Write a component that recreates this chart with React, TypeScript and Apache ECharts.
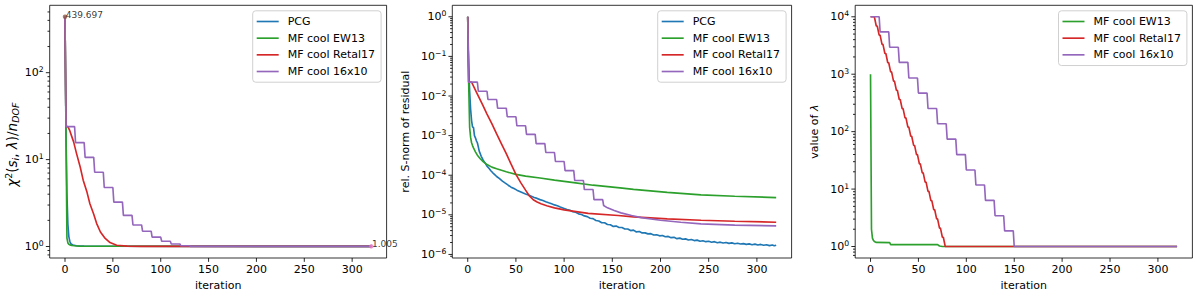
import React, { useEffect, useRef } from "react";
import * as echarts from "echarts";

// ---------- shared ----------
const ITER_TICKS = [0, 50, 100, 150, 200, 250, 300];
const X_MIN = -16;
const X_MAX = 336;
const NAME_PCG = "PCG";
const NAME_EW13 = "MF cool EW13";
const NAME_RETAL = "MF cool Retal17";
const NAME_16X10 = "MF cool 16x10";
const COLOR_PCG = "#1f77b4";
const COLOR_EW13 = "#2ca02c";
const COLOR_RETAL = "#d62728";
const COLOR_16X10 = "#9467bd";

// ---------- panel 1: chi^2 / n_DOF ----------
const CHI2_RANGE = [0.7376, 596.3];
const CHI2_MAJOR = [1, 10, 100];
const chi2PCG = [[0, 439.697], [1, 20], [2, 4.0], [3, 1.8], [4, 1.3], [5, 1.15], [6, 1.08], [8, 1.04], [12, 1.02], [20, 1.01], [40, 1.006], [320, 1.005]];
const chi2EW13 = [[0, 439.697], [1, 24], [2, 1.25], [3, 1.1], [4, 1.06], [5, 1.045], [7, 1.03], [10, 1.02], [15, 1.012], [25, 1.008], [50, 1.006], [320, 1.005]];
const chi2Retal = [[0, 439.697], [1, 24], [3, 24], [5, 21.5], [7, 18.5], [9, 16], [12, 11.8], [16, 8.1], [19, 5.8], [23, 4.2], [26, 3.1], [30, 2.35], [33, 1.85], [37, 1.47], [42, 1.24], [47, 1.11], [54, 1.035], [65, 1.01], [80, 1.005], [320, 1.005]];
const chi2Cool16 = [[0, 439.697], [1, 24], [10, 24], [11, 15.7], [20, 15.7], [21, 10.6], [30, 10.6], [31, 7.16], [40, 7.16], [41, 4.78], [50, 4.78], [51, 3.24], [60, 3.24], [61, 2.28], [70, 2.28], [71, 1.77], [80, 1.77], [81, 1.5], [90, 1.5], [91, 1.28], [100, 1.28], [101, 1.15], [110, 1.15], [111, 1.07], [120, 1.07], [121, 1.02], [130, 1.02], [131, 1.005], [320, 1.005]];
const chi2Start = [[0, 439.697]];
const chi2End = [[320, 1.005]];
const chi2StartLabel = "439.697";
const chi2EndLabel = "1.005";

// ---------- panel 2: relative residual ----------
const RES_RANGE = [8.13e-7, 1.95];
const RES_MAJOR = [1e-6, 1e-5, 1e-4, 1e-3, 1e-2, 1e-1, 1];
const resPCG = [[0, 1], [1, 0.06], [2, 0.013], [3, 4.6e-3], [4, 2.4e-3], [5, 1.65e-3], [6, 1.6e-3], [7, 1.0e-3], [8, 8.8e-4], [9, 7.4e-4], [10, 6.6e-4], [11, 5.2e-4], [12, 4.0e-4], [13, 3.5e-4], [14, 3.0e-4], [15, 2.7e-4], [16, 2.4e-4], [18, 2.05e-4], [20, 1.7e-4], [22, 1.5e-4], [24, 1.3e-4], [26, 1.15e-4], [28, 1.04e-4], [30, 9.3e-5], [33, 8.2e-5], [36, 7.1e-5], [39, 6.3e-5], [42, 5.6e-5], [45, 5.0e-5], [48, 4.6e-5], [51, 4.2e-5], [54, 3.9e-5], [57, 3.6e-5], [60, 3.35e-5], [63, 3.15e-5], [66, 2.95e-5], [69, 2.75e-5], [72, 2.6e-5], [75, 2.42e-5], [78, 2.3e-5], [81, 2.15e-5], [84, 2.02e-5], [87, 1.9e-5], [90, 1.78e-5], [93, 1.7e-5], [96, 1.58e-5], [100, 1.45e-5], [103, 1.36e-5], [106, 1.31e-5], [109, 1.2e-5], [112, 1.16e-5], [115, 1.06e-5], [118, 1.02e-5], [121, 9.4e-6], [124, 9.0e-6], [127, 8.2e-6], [130, 8.0e-6], [133, 7.2e-6], [136, 7.0e-6], [139, 6.3e-6], [142, 6.3e-6], [145, 5.7e-6], [148, 5.6e-6], [151, 5.1e-6], [154, 5.2e-6], [157, 4.8e-6], [160, 4.8e-6], [163, 4.4e-6], [166, 4.4e-6], [169, 4.0e-6], [172, 4.1e-6], [175, 3.7e-6], [178, 3.8e-6], [181, 3.5e-6], [184, 3.5e-6], [187, 3.3e-6], [190, 3.35e-6], [193, 3.1e-6], [196, 3.15e-6], [199, 2.95e-6], [202, 3.0e-6], [205, 2.8e-6], [208, 2.85e-6], [211, 2.65e-6], [214, 2.7e-6], [217, 2.5e-6], [220, 2.58e-6], [223, 2.42e-6], [226, 2.47e-6], [229, 2.32e-6], [232, 2.38e-6], [235, 2.24e-6], [238, 2.3e-6], [241, 2.16e-6], [244, 2.22e-6], [247, 2.1e-6], [250, 2.15e-6], [253, 2.03e-6], [256, 2.1e-6], [259, 1.98e-6], [262, 2.04e-6], [265, 1.94e-6], [268, 2.0e-6], [271, 1.9e-6], [274, 1.96e-6], [277, 1.86e-6], [280, 1.92e-6], [283, 1.83e-6], [286, 1.88e-6], [289, 1.8e-6], [292, 1.85e-6], [295, 1.76e-6], [298, 1.82e-6], [301, 1.73e-6], [304, 1.79e-6], [307, 1.7e-6], [310, 1.76e-6], [313, 1.67e-6], [316, 1.73e-6], [318, 1.65e-6], [320, 1.7e-6]];
const resEW13 = [[0, 1], [1, 0.02], [2, 1.6e-3], [3, 9.0e-4], [4, 6.6e-4], [5, 5.6e-4], [6, 4.9e-4], [8, 3.9e-4], [10, 3.2e-4], [13, 2.6e-4], [16, 2.2e-4], [20, 1.86e-4], [25, 1.6e-4], [30, 1.45e-4], [35, 1.33e-4], [40, 1.22e-4], [50, 1.05e-4], [60, 9.5e-5], [75, 8.5e-5], [90, 7.5e-5], [110, 6.5e-5], [130, 5.6e-5], [158, 4.8e-5], [172, 4.4e-5], [207, 3.7e-5], [242, 3.2e-5], [277, 2.95e-5], [320, 2.73e-5]];
const resRetal = [[0, 1], [1, 0.0224], [4, 0.0224], [6, 0.0178], [10, 0.0112], [15, 6.3e-3], [20, 3.5e-3], [25, 2.0e-3], [30, 1.1e-3], [35, 6.2e-4], [40, 3.5e-4], [45, 1.9e-4], [50, 1.05e-4], [55, 6.5e-5], [60, 4.2e-5], [64, 3.0e-5], [68, 2.4e-5], [72, 2.1e-5], [76, 1.9e-5], [82, 1.7e-5], [90, 1.5e-5], [100, 1.33e-5], [125, 1.09e-5], [156, 9.6e-6], [172, 8.9e-6], [207, 7.9e-6], [242, 7.3e-6], [277, 6.9e-6], [320, 6.5e-6]];
const resCool16 = [[0, 1], [1, 0.0224], [10, 0.0224], [11, 0.0132], [20, 0.0132], [21, 8.16e-3], [30, 8.16e-3], [31, 4.92e-3], [40, 4.92e-3], [41, 2.99e-3], [50, 2.99e-3], [51, 1.77e-3], [60, 1.77e-3], [61, 1.07e-3], [70, 1.07e-3], [71, 6.3e-4], [80, 6.3e-4], [81, 3.74e-4], [90, 3.74e-4], [91, 2.22e-4], [100, 2.22e-4], [101, 1.31e-4], [110, 1.31e-4], [111, 7.35e-5], [120, 7.35e-5], [121, 4.35e-5], [130, 4.35e-5], [131, 2.43e-5], [140, 2.43e-5], [141, 1.72e-5], [145, 1.5e-5], [152, 1.28e-5], [159, 1.12e-5], [170, 9.6e-6], [180, 8.5e-6], [200, 7.3e-6], [221, 6.5e-6], [242, 5.9e-6], [277, 5.5e-6], [320, 5.25e-6]];

// ---------- panel 3: lambda ----------
const LAM_RANGE = [0.631, 15849];
const LAM_MAJOR = [1, 10, 100, 1000, 10000];
const lamEW13 = [[0, 1000], [1, 2.0], [2, 1.4], [3, 1.28], [4, 1.22], [6, 1.18], [20, 1.17], [21, 1.08], [70, 1.08], [72, 1.02], [75, 1.0], [320, 1.0]];
const lamRetal = [[0, 10000], [4, 10000], [6, 6918], [7, 6918], [9, 4786], [10, 4786], [12, 3311], [13, 3311], [15, 2291], [16, 2291], [18, 1585], [19, 1585], [21, 1096], [22, 1096], [24, 759], [25, 759], [27, 525], [28, 525], [30, 363], [31, 363], [33, 251], [34, 251], [36, 174], [37, 174], [39, 120], [40, 120], [42, 83.2], [43, 83.2], [45, 57.5], [46, 57.5], [48, 39.8], [49, 39.8], [51, 27.5], [52, 27.5], [54, 19.1], [55, 19.1], [57, 13.2], [58, 13.2], [60, 9.12], [61, 9.12], [63, 6.31], [64, 6.31], [66, 4.37], [67, 4.37], [69, 3.02], [70, 3.02], [72, 2.09], [73, 2.09], [75, 1.45], [76, 1.45], [78, 1.0], [320, 1.0]];
const lamCool16 = [[0, 10000], [9, 10000], [10, 5470], [19, 5470], [20, 2950], [29, 2950], [30, 1610], [39, 1610], [40, 859], [49, 859], [50, 470], [59, 470], [60, 253], [69, 253], [70, 137], [79, 137], [80, 74], [89, 74], [90, 39.8], [99, 39.8], [100, 21.5], [109, 21.5], [110, 11.8], [119, 11.8], [120, 6.36], [129, 6.36], [130, 3.43], [139, 3.43], [140, 1.87], [149, 1.87], [150, 1.0], [320, 1.0]];

// ---------- layout ----------
const FONT = "DejaVu Sans";
const FS = 11;
const GRIDS = [
  { left: 49.7, top: 5.3, width: 336.9, height: 252.7 },
  { left: 452.3, top: 5.3, width: 339.3, height: 252.7 },
  { left: 855.2, top: 5.3, width: 337.2, height: 252.7 },
];

function minorTicks(range: number[]) {
  const out: number[] = [];
  const lo = Math.floor(Math.log10(range[0]));
  const hi = Math.ceil(Math.log10(range[1]));
  for (let d = lo; d <= hi; d++) {
    for (let m = 2; m <= 9; m++) {
      const v = m * Math.pow(10, d);
      if (v >= range[0] && v <= range[1]) out.push(v);
    }
  }
  return out;
}

function tickSeries(idx: number, yRange: number[], yMajor: number[]) {
  const data: number[][] = [];
  ITER_TICKS.forEach((v) => data.push([v, yRange[0], 0]));
  yMajor.forEach((v) => data.push([X_MIN, v, 1]));
  minorTicks(yRange).forEach((v) => data.push([X_MIN, v, 2]));
  return {
    type: "custom",
    xAxisIndex: idx,
    yAxisIndex: idx,
    silent: true,
    clip: false,
    z: 6,
    data,
    renderItem: (_params: any, api: any) => {
      const p = api.coord([api.value(0), api.value(1)]);
      const kind = api.value(2);
      let shape;
      if (kind === 0) shape = { x1: p[0], y1: p[1], x2: p[0], y2: p[1] + 3.85 };
      else {
        const len = kind === 1 ? 3.85 : 2.2;
        shape = { x1: p[0] - len, y1: p[1], x2: p[0], y2: p[1] };
      }
      return { type: "line", shape, style: { stroke: "#000", lineWidth: 0.85 } };
    },
  };
}

const supText = (e: number) => (e < 0 ? "\u2212" + Math.abs(e) : String(e));

function yAxis(idx: number, range: number[], name: string, nameGap: number, nameRich: any, namePadding: number[]) {
  return {
    type: "log",
    logBase: 10,
    gridIndex: idx,
    min: range[0],
    max: range[1],
    axisLine: { show: false },
    axisTick: { show: false },
    splitLine: { show: false },
    axisLabel: {
      margin: 6,
      formatter: (v: number) => {
        const l = Math.log10(v);
        const e = Math.round(l);
        if (Math.abs(l - e) > 1e-6) return "";
        return `{b|10}{s|${supText(e)}}`;
      },
      rich: {
        b: { fontSize: FS, fontFamily: FONT, color: "#000", lineHeight: 14 },
        s: { fontSize: 7.7, fontFamily: FONT, color: "#000", verticalAlign: "top" },
      },
    },
    name,
    nameLocation: "middle",
    nameRotate: 90,
    nameGap,
    nameTextStyle: { fontSize: FS, fontFamily: FONT, color: "#000", rich: nameRich, padding: namePadding },
  };
}

function xAxis(idx: number) {
  return {
    type: "value",
    gridIndex: idx,
    min: X_MIN,
    max: X_MAX,
    splitNumber: 7,
    axisLine: { show: false },
    axisTick: { show: false },
    splitLine: { show: false },
    axisLabel: {
      margin: 6,
      fontSize: FS,
      fontFamily: FONT,
      color: "#000",
      formatter: (v: number) => (ITER_TICKS.indexOf(v) >= 0 ? String(v) : ""),
    },
    name: "iteration",
    nameLocation: "middle",
    nameGap: 20,
    nameTextStyle: { fontSize: FS, fontFamily: FONT, color: "#000" },
  };
}

function line(idx: number, name: string, color: string, data: number[][]) {
  return {
    type: "line",
    name,
    xAxisIndex: idx,
    yAxisIndex: idx,
    data,
    showSymbol: false,
    symbol: "none",
    color,
    lineStyle: { color, width: 1.65 },
    itemStyle: { color },
    z: 3,
  };
}

function legend(idx: number, names: string[]) {
  const g = GRIDS[idx];
  return {
    data: names,
    orient: "vertical",
    right: 1200 - (g.left + g.width - 5.5),
    top: 10.8,
    icon: "rect",
    itemWidth: 22,
    itemHeight: 1.65,
    itemGap: 4.67,
    padding: [4.7, 6, 4.7, 4],
    backgroundColor: "rgba(255,255,255,0.8)",
    borderColor: "#d0d0d0",
    borderWidth: 1,
    borderRadius: 3,
    textStyle: { fontSize: FS, fontFamily: FONT, color: "#000", lineHeight: 12, padding: [0, 0, 0, 4] },
  };
}

const chiRich = {
  i: { fontStyle: "italic", fontSize: 13.5, fontFamily: FONT, color: "#000", lineHeight: 17 },
  n: { fontSize: 13.5, fontFamily: FONT, color: "#000", lineHeight: 17 },
  s: { fontSize: 9.5, fontFamily: FONT, color: "#000", verticalAlign: "top" },
  d: { fontStyle: "italic", fontSize: 9.5, fontFamily: FONT, color: "#000", verticalAlign: "bottom" },
};

const lamRich = {
  i: { fontStyle: "italic", fontSize: FS, fontFamily: FONT, color: "#000", lineHeight: 15 },
  n: { fontSize: FS, fontFamily: FONT, color: "#000", lineHeight: 15 },
};

function buildOption() {
  return {
    animation: false,
    textStyle: { fontFamily: FONT },
    grid: GRIDS.map((g) => ({
      ...g,
      show: true,
      borderColor: "#000",
      borderWidth: 0.8,
      backgroundColor: "transparent",
      containLabel: false,
      outerBoundsMode: "none",
    })),
    xAxis: [xAxis(0), xAxis(1), xAxis(2)],
    yAxis: [
      yAxis(0, CHI2_RANGE, "{i|\u03c7}{s|2}{n|(}{i|s}{d|i}{n|, }{i|\u03bb}{n|)/}{i|n}{d|DOF}", 29, chiRich, [0, 26, 0, 0]),
      yAxis(1, RES_RANGE, "rel. S-norm of residual", 41, undefined, [0, 0, 0, 0]),
      yAxis(2, LAM_RANGE, "{n|value of }{i|\u03bb}", 33, lamRich, [0, 0, 0, 0]),
    ],
    legend: [
      legend(0, [NAME_PCG, NAME_EW13, NAME_RETAL, NAME_16X10]),
      legend(1, [NAME_PCG, NAME_EW13, NAME_RETAL, NAME_16X10]),
      legend(2, [NAME_EW13, NAME_RETAL, NAME_16X10]),
    ],
    series: [
      line(0, NAME_PCG, COLOR_PCG, chi2PCG),
      line(0, NAME_EW13, COLOR_EW13, chi2EW13),
      line(0, NAME_RETAL, COLOR_RETAL, chi2Retal),
      line(0, NAME_16X10, COLOR_16X10, chi2Cool16),
      {
        type: "scatter",
        xAxisIndex: 0,
        yAxisIndex: 0,
        data: chi2Start,
        symbolSize: 4.5,
        itemStyle: { color: "#8c564b" },
        z: 8,
        label: { show: true, formatter: chi2StartLabel, position: [3, 4.5], align: "left", verticalAlign: "bottom", fontSize: 9, fontFamily: FONT, color: "#000" },
      },
      {
        type: "scatter",
        xAxisIndex: 0,
        yAxisIndex: 0,
        data: chi2End,
        symbolSize: 4.5,
        itemStyle: { color: "#e377c2" },
        z: 8,
        label: { show: true, formatter: chi2EndLabel, position: [3, 4.5], align: "left", verticalAlign: "bottom", fontSize: 9, fontFamily: FONT, color: "#000" },
      },
      line(1, NAME_PCG, COLOR_PCG, resPCG),
      line(1, NAME_EW13, COLOR_EW13, resEW13),
      line(1, NAME_RETAL, COLOR_RETAL, resRetal),
      line(1, NAME_16X10, COLOR_16X10, resCool16),
      line(2, NAME_EW13, COLOR_EW13, lamEW13),
      line(2, NAME_RETAL, COLOR_RETAL, lamRetal),
      line(2, NAME_16X10, COLOR_16X10, lamCool16),
      tickSeries(0, CHI2_RANGE, CHI2_MAJOR),
      tickSeries(1, RES_RANGE, RES_MAJOR),
      tickSeries(2, LAM_RANGE, LAM_MAJOR),
    ],
  };
}

export default function App() {
  const ref = useRef<HTMLDivElement>(null);
  useEffect(() => {
    if (!ref.current) return;
    const chart = echarts.init(ref.current, null, { renderer: "svg" });
    chart.setOption(buildOption() as any);
    return () => chart.dispose();
  }, []);
  return <div ref={ref} style={{ position: "absolute", left: 0, top: 0, width: 1200, height: 294 }} />;
}
